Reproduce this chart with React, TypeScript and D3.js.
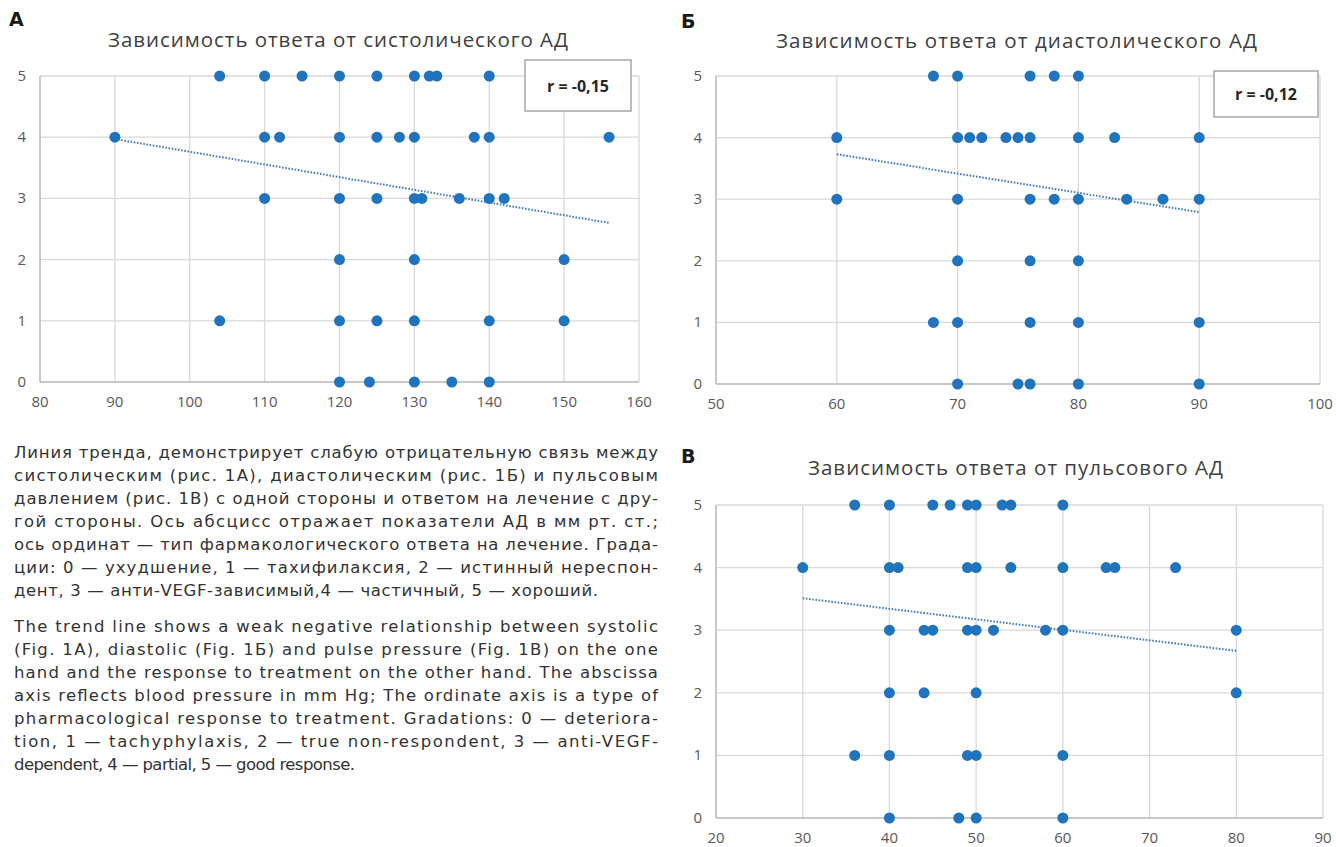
import React, { useEffect, useRef } from 'react';
import * as d3 from 'd3';

// response grades on the Y axis
const responseTicks = [0, 1, 2, 3, 4, 5];

// А — systolic pressure (mm Hg) vs response
const systolicBP = [
  104, 110, 115, 120, 125, 130, 132, 133, 140,
  90, 110, 112, 120, 125, 128, 130, 138, 140, 156,
  110, 120, 125, 130, 131, 136, 140, 142,
  120, 130, 150,
  104, 120, 125, 130, 140, 150,
  120, 124, 130, 135, 140,
];
const systolicResp = [
  5, 5, 5, 5, 5, 5, 5, 5, 5,
  4, 4, 4, 4, 4, 4, 4, 4, 4, 4,
  3, 3, 3, 3, 3, 3, 3, 3,
  2, 2, 2,
  1, 1, 1, 1, 1, 1,
  0, 0, 0, 0, 0,
];
const systolicTrend = [[90, 3.97], [156, 2.6]];

// Б — diastolic pressure
const diastolicBP = [
  68, 70, 76, 78, 80,
  60, 70, 71, 72, 74, 75, 76, 80, 83, 90,
  60, 70, 76, 78, 80, 84, 87, 90,
  70, 76, 80,
  68, 70, 76, 80, 90,
  70, 75, 76, 80, 90,
];
const diastolicResp = [
  5, 5, 5, 5, 5,
  4, 4, 4, 4, 4, 4, 4, 4, 4, 4,
  3, 3, 3, 3, 3, 3, 3, 3,
  2, 2, 2,
  1, 1, 1, 1, 1,
  0, 0, 0, 0, 0,
];
const diastolicTrend = [[60, 3.73], [90, 2.79]];

// В — pulse pressure
const pulseBP = [
  36, 40, 45, 47, 49, 50, 53, 54, 60,
  30, 40, 41, 49, 50, 54, 60, 65, 66, 73,
  40, 44, 45, 49, 50, 52, 58, 60, 80,
  40, 44, 50, 80,
  36, 40, 49, 50, 60,
  40, 48, 50, 60,
];
const pulseResp = [
  5, 5, 5, 5, 5, 5, 5, 5, 5,
  4, 4, 4, 4, 4, 4, 4, 4, 4, 4,
  3, 3, 3, 3, 3, 3, 3, 3, 3,
  2, 2, 2, 2,
  1, 1, 1, 1, 1,
  0, 0, 0, 0,
];
const pulseTrend = [[30, 3.51], [80, 2.67]];

const ruLines = [
  'Линия тренда, демонстрирует слабую отрицательную связь между',
  'систолическим (рис. 1А), диастолическим (рис. 1Б) и пульсовым',
  'давлением (рис. 1В) с одной стороны и ответом на лечение с дру-',
  'гой стороны. Ось абсцисс отражает показатели АД в мм рт. ст.;',
  'ось ординат — тип фармакологического ответа на лечение. Града-',
  'ции: 0 — ухудшение, 1 — тахифилаксия, 2 — истинный нереспон-',
  'дент, 3 — анти-VEGF-зависимый,4 — частичный, 5 — хороший.',
];
const enLines = [
  'The trend line shows a weak negative relationship between systolic',
  '(Fig. 1A), diastolic (Fig. 1Б) and pulse pressure (Fig. 1B) on the one',
  'hand and the response to treatment on the other hand. The abscissa',
  'axis reflects blood pressure in mm Hg; The ordinate axis is a type of',
  'pharmacological response to treatment. Gradations: 0 — deteriora-',
  'tion, 1 — tachyphylaxis, 2 — true non-respondent, 3 — anti-VEGF-',
  'dependent, 4 — partial, 5 — good response.',
];

const chartFont = "'Open Sans', 'Liberation Sans', sans-serif";
const dotColor = '#1f74bd';
const gridColor = '#d9d9d9';

const panels = [
  {
    letter: 'А', letterX: 9, letterY: 26,
    title: 'Зависимость ответа от систолического АД', titleX: 108, titleW: 460, titleY: 47,
    left: 40, right: 639, top: 76, bottom: 382,
    xDomain: [80, 160], xs: systolicBP, ys: systolicResp, trend: systolicTrend,
    rBox: { text: 'r = -0,15', x: 525, y: 60, w: 106, h: 51 },
  },
  {
    letter: 'Б', letterX: 681, letterY: 28,
    title: 'Зависимость ответа от диастолического АД', titleX: 776, titleW: 481, titleY: 48,
    left: 716, right: 1320, top: 76, bottom: 384,
    xDomain: [50, 100], xs: diastolicBP, ys: diastolicResp, trend: diastolicTrend,
    rBox: { text: 'r = -0,12', x: 1214, y: 71, w: 104, h: 46 },
  },
  {
    letter: 'В', letterX: 681, letterY: 463,
    title: 'Зависимость ответа от пульсового АД', titleX: 808, titleW: 415, titleY: 475,
    left: 716, right: 1323, top: 505, bottom: 818,
    xDomain: [20, 90], xs: pulseBP, ys: pulseResp, trend: pulseTrend,
    rBox: null,
  },
];

const App = () => {
  const ref = useRef<SVGSVGElement>(null);

  useEffect(() => {
    const svg = d3.select(ref.current);
    svg.selectAll('g.panel').remove();

    panels.forEach(p => {
      const g = svg.append('g').attr('class', 'panel');
      const x = d3.scaleLinear().domain(p.xDomain).range([p.left, p.right]);
      const y = d3.scaleLinear().domain([0, 5]).range([p.bottom, p.top]);
      const xTicks = d3.range(p.xDomain[0], p.xDomain[1] + 1, 10);

      // panel letter
      g.append('text')
        .attr('x', p.letterX).attr('y', p.letterY)
        .attr('font-family', "'DejaVu Sans', sans-serif")
        .attr('font-weight', 900).attr('font-size', 19)
        .attr('fill', '#1a1a1a')
        .text(p.letter);

      g.append('text')
        .attr('x', p.titleX).attr('y', p.titleY)
        .attr('textLength', p.titleW).attr('lengthAdjust', 'spacing')
        .attr('font-family', chartFont).attr('font-size', 20.5)
        .attr('fill', '#404040')
        .text(p.title);

      // grid
      g.selectAll('.hg').data(responseTicks).enter().append('line')
        .attr('x1', p.left).attr('x2', p.right)
        .attr('y1', d => y(d)).attr('y2', d => y(d))
        .attr('stroke', gridColor).attr('stroke-width', 1.3);
      g.selectAll('.vg').data(xTicks).enter().append('line')
        .attr('x1', d => x(d)).attr('x2', d => x(d))
        .attr('y1', p.top).attr('y2', p.bottom)
        .attr('stroke', gridColor).attr('stroke-width', 1.3);
      // axis lines
      g.append('line').attr('x1', p.left).attr('x2', p.right)
        .attr('y1', p.bottom).attr('y2', p.bottom)
        .attr('stroke', '#bfbfbf').attr('stroke-width', 1.5);
      g.append('line').attr('x1', p.left).attr('x2', p.left)
        .attr('y1', p.top).attr('y2', p.bottom)
        .attr('stroke', '#bfbfbf').attr('stroke-width', 1.5);

      g.selectAll('.yl').data(responseTicks).enter().append('text')
        .attr('x', p.left - 14).attr('y', d => y(d) + 5)
        .attr('text-anchor', 'end')
        .attr('font-family', chartFont).attr('font-size', 15)
        .attr('fill', '#595959')
        .text(d => d);
      g.selectAll('.xl').data(xTicks).enter().append('text')
        .attr('x', d => x(d)).attr('y', p.bottom + 25)
        .attr('text-anchor', 'middle')
        .attr('font-family', chartFont).attr('font-size', 15)
        .attr('fill', '#595959')
        .text(d => d);

      // trend line
      g.append('path')
        .datum(p.trend)
        .attr('d', d3.line().x(d => x(d[0])).y(d => y(d[1])))
        .attr('fill', 'none')
        .attr('stroke', '#3f7cc0')
        .attr('stroke-width', 2)
        .attr('stroke-dasharray', '1.6 1.6');

      g.selectAll('.dot').data(p.xs).enter().append('circle')
        .attr('cx', d => x(d)).attr('cy', (d, i) => y(p.ys[i]))
        .attr('r', 5.5)
        .attr('fill', dotColor);

      if (p.rBox) {
        const b = p.rBox;
        g.append('rect')
          .attr('x', b.x).attr('y', b.y).attr('width', b.w).attr('height', b.h)
          .attr('fill', 'white').attr('stroke', '#a6a6a6').attr('stroke-width', 1.5);
        g.append('text')
          .attr('x', b.x + b.w / 2).attr('y', b.y + b.h / 2 + 6)
          .attr('text-anchor', 'middle')
          .attr('font-family', chartFont).attr('font-weight', 700).attr('font-size', 16)
          .attr('fill', '#262626')
          .text(b.text);
      }
    });
  }, []);

  const textLine = (s: string, i: number, lastW: number, y0: number) => (
    <text
      key={s}
      x={14}
      y={y0 + i * 23}
      fontFamily="'DejaVu Sans', sans-serif"
      fontSize={16.5}
      fill="#333"
      textLength={i < 6 ? 644 : lastW}
      lengthAdjust="spacing"
    >
      {s}
    </text>
  );

  return (
    <svg ref={ref} width={1336} height={847}
      style={{ position: 'absolute', left: 0, top: 0, background: 'white' }}>
      {ruLines.map((s, i) => textLine(s, i, 584, 458))}
      {enLines.map((s, i) => textLine(s, i, 341, 632))}
    </svg>
  );
};

export default App;
